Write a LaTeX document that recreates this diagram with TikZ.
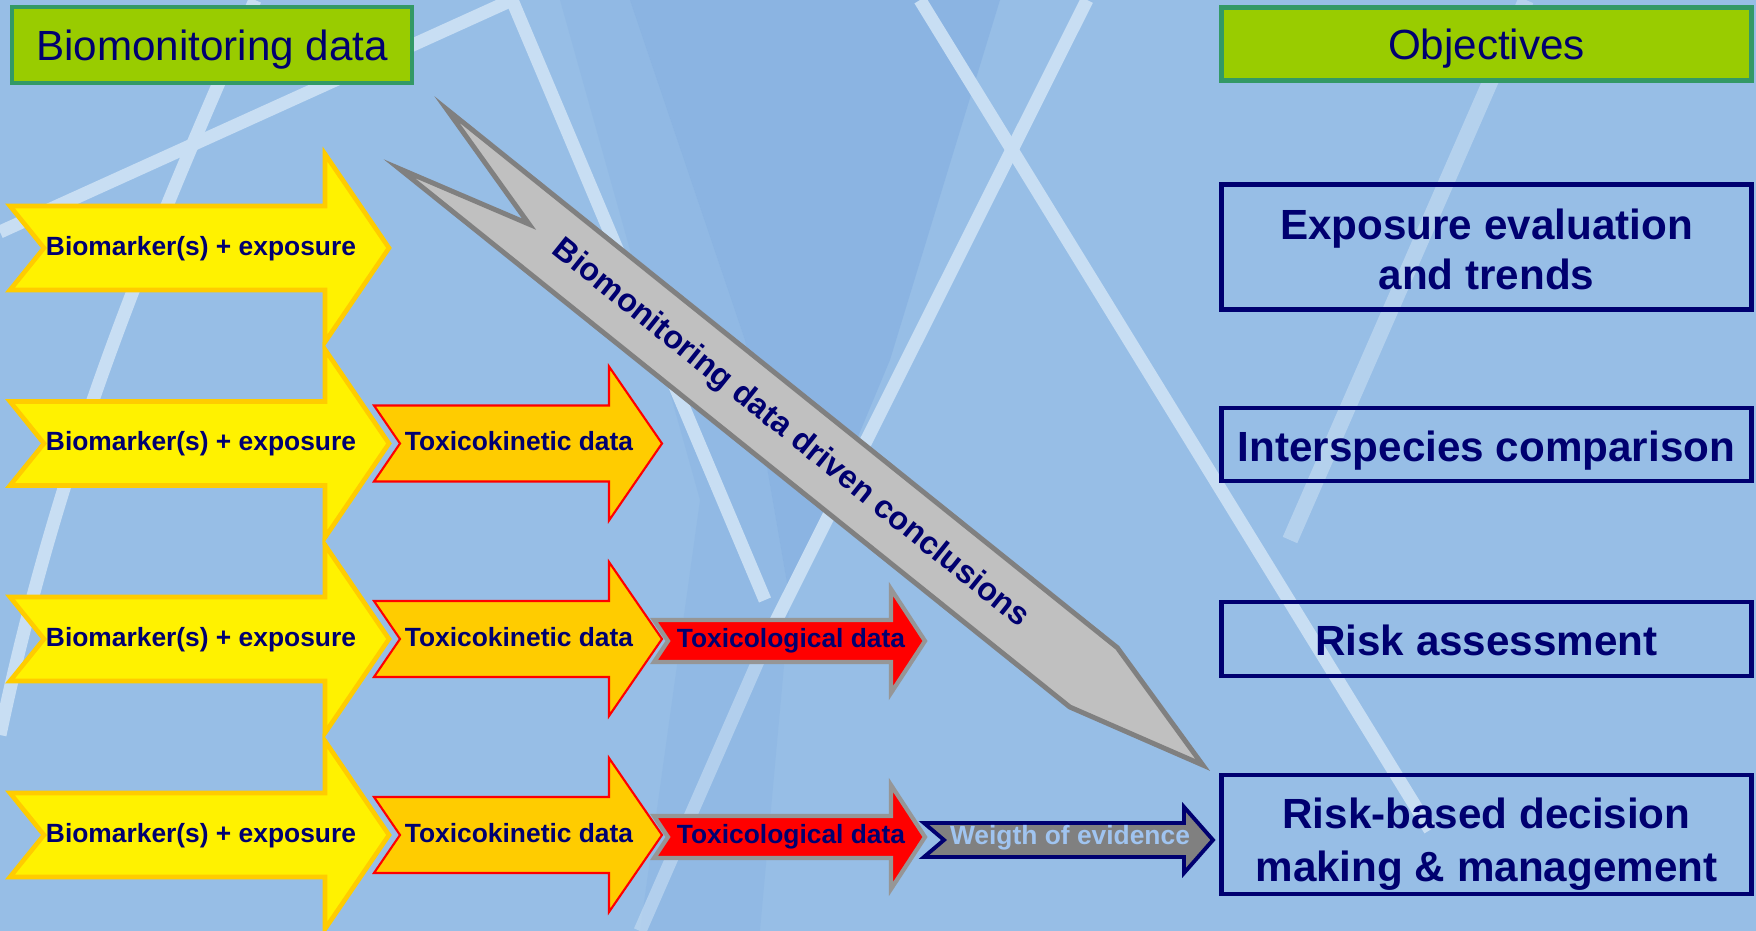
\documentclass[tikz,border=0pt]{standalone}
\usepackage{fontspec}
\setmainfont{Liberation Sans}
\definecolor{bgblue}{RGB}{151,190,230}
\definecolor{bgdark}{RGB}{112,160,220}
\definecolor{streak}{RGB}{200,222,243}
\definecolor{navy}{RGB}{0,0,112}
\definecolor{leaf}{RGB}{153,204,0}
\definecolor{leafedge}{RGB}{51,153,102}
\definecolor{gold}{RGB}{255,204,0}
\definecolor{silver}{RGB}{192,192,192}
\definecolor{midgray}{RGB}{128,128,128}
\definecolor{ashgray}{RGB}{150,150,150}
\definecolor{paleblue}{RGB}{160,196,240}
\tikzset{
  header/.style={draw=leafedge,fill=leaf,line width=1.3pt,inner sep=0pt,text height=11.5pt,text depth=2.5pt,text=navy,font=\fontsize{12}{14}\selectfont},
  objbox/.style={draw=navy,line width=1.3pt,minimum width=5.3cm,inner sep=0pt,align=center,text height=9.6pt,text depth=0pt,text=navy,font=\bfseries\fontsize{12}{14}\selectfont},
  flowtext/.style={anchor=base,inner sep=0pt,text=navy,font=\bfseries\fontsize{7.5}{9}\selectfont},
  yellowarr/.style={draw=gold,fill=yellow,line width=1.3pt},
  orangearr/.style={draw=red,fill=gold,line width=0.6pt},
  redarr/.style={draw=ashgray,fill=red,line width=1.2pt},
  woearr/.style={draw=navy,fill=midgray,line width=1.1pt},
  bigarr/.style={draw=midgray,fill=silver,line width=1.4pt},
  streakline/.style={draw=streak,line width=3.7pt},
}
\newcommand{\notcharrow}[8]{%
  \draw[#1] (#2,#3-#5) -- (#6,#3-#5) -- (#6,#3-#7) -- (#8,#3) -- (#6,#3+#7)
    -- (#6,#3+#5) -- (#2,#3+#5) -- (#2+#4,#3) -- cycle;}

\begin{document}
\begin{tikzpicture}[x=0.01cm,y=-0.01cm]
  \fill[bgblue] (0,0) rectangle (1756,931);
  \useasboundingbox (0,0) rectangle (1756,931);
  \begin{scope}
    \clip (0,0) rectangle (1756,931);
    \fill[bgdark,opacity=.3] (630,0) -- (1000,0) -- (890,360) -- (790,600) -- (745,340) -- cycle;
    \fill[bgdark,opacity=.15] (560,0) -- (630,0) -- (745,340) -- (790,600) -- (760,931) -- (640,931) -- (700,500) -- cycle;
    \draw[streakline] (0,232) -- (512,0);
    \draw[streakline] (512,0) -- (765,600);
    \draw[streakline] (255,0) .. controls (150,240) and (60,450) .. (0,735);
    \draw[streakline] (920,0) -- (1430,830);
    \draw[streakline] (1087,0) -- (773,627);
    \draw[streakline,opacity=.6] (773,627) -- (640,931);
    \draw[streakline,opacity=.6,line width=4.5pt] (1526,0) -- (1290,540);
  \end{scope}

  \node[header,minimum width=4cm,minimum height=0.76cm] (bmdata) at (212,45) {Biomonitoring data};
  \node[header,minimum width=5.3cm,minimum height=0.73cm] (objectives) at (1486.5,44) {Objectives};

  \node[objbox,minimum height=1.245cm,text height=23.9pt] (expo) at (1486.5,247) {Exposure evaluation\\and trends};
  \node[objbox,minimum height=0.73cm] (inter) at (1486.5,444.5) {Interspecies comparison};
  \node[objbox,minimum height=0.74cm] (risk) at (1486.5,639) {Risk assessment};
  \node[objbox,minimum height=1.19cm,text height=26.8pt,font=\bfseries\fontsize{12}{15}\selectfont] (decision) at (1486.5,834.5) {Risk-based decision\\making \& management};

  \begin{scope}[shift={(423,139)},rotate=-38.76]
    \draw[bigarr] (0,-38) -- (860,-38) -- (1000,0) -- (860,38) -- (0,38) -- (136,0) -- cycle;
    \node[rotate=-38.76,text=navy,font=\bfseries\fontsize{9.2}{11}\selectfont] (concl) at (471,0) {Biomonitoring data driven conclusions};
  \end{scope}

  \foreach \y [count=\i] in {248,443.5,639,835}{
    \notcharrow{yellowarr}{10}{\y}{34}{42}{325}{94}{389}
    \node[flowtext] (bio\i) at (201,\y+7.5) {Biomarker(s) + exposure};
  }
  \foreach \y [count=\i from 2] in {443.5,639,835}{
    \notcharrow{orangearr}{374}{\y}{26}{38}{609}{77}{662}
    \node[flowtext] (tk\i) at (519,\y+7.5) {Toxicokinetic data};
  }
  \foreach \y [count=\i from 3] in {639,835}{
    \notcharrow{redarr}{654}{\y+2}{14}{21}{891}{52}{925}
    \node[flowtext] (tox\i) at (791,\y+9) {Toxicological data};
  }
  \notcharrow{woearr}{924}{840}{20}{17}{1184}{33}{1213}
  \node[flowtext,text=paleblue] (woe) at (1070,845) {Weigth of evidence};
\end{tikzpicture}
\end{document}
